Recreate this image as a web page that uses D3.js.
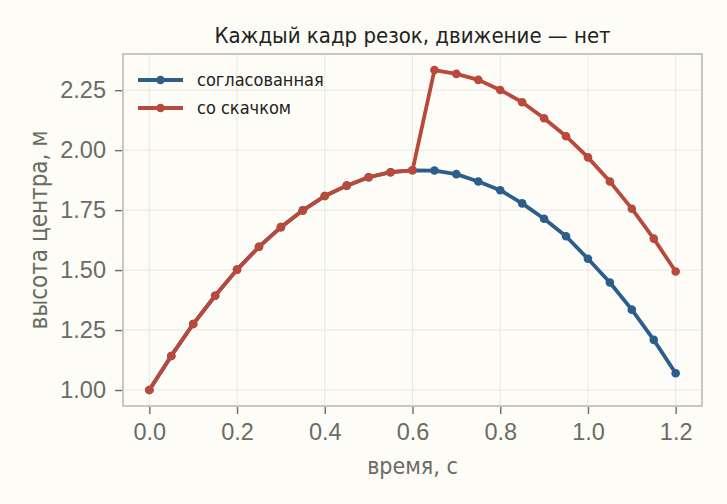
<!DOCTYPE html>
<html>
<head>
<meta charset="utf-8">
<script src="https://cdn.jsdelivr.net/npm/d3@7"></script>
<style>
  body { margin: 0; background: #fdfcf7; }
  svg { font-family: "DejaVu Sans Condensed", "DejaVu Sans", sans-serif; font-stretch: condensed; }
</style>
</head>
<body>
<svg id="chart" width="727" height="504"></svg>
<script>
// time samples, s
const times = [0.0, 0.05, 0.1, 0.15, 0.2, 0.25, 0.3, 0.35, 0.4, 0.45, 0.5, 0.55, 0.6,
  0.65, 0.7, 0.75, 0.8, 0.85, 0.9, 0.95, 1.0, 1.05, 1.1, 1.15, 1.2];
// consistent motion
const smoothH = [1.000, 1.142, 1.275, 1.393, 1.502, 1.597, 1.679, 1.749, 1.809, 1.852, 1.887, 1.908, 1.916,
  1.915, 1.900, 1.869, 1.833, 1.778, 1.714, 1.641, 1.547, 1.448, 1.335, 1.209, 1.070];
// with a jump after 0.6 s
const jumpH = [1.000, 1.142, 1.275, 1.393, 1.502, 1.597, 1.679, 1.749, 1.809, 1.852, 1.887, 1.908, 1.916,
  2.334, 2.318, 2.293, 2.251, 2.200, 2.133, 2.058, 1.970, 1.869, 1.756, 1.631, 1.494];
const xTicks = [0.0, 0.2, 0.4, 0.6, 0.8, 1.0, 1.2];
const yTicks = [1.00, 1.25, 1.50, 1.75, 2.00, 2.25];
const seriesNames = ["согласованная", "со скачком"];
const seriesColors = ["#2c5d8b", "#b8493b"];

const margin = { top: 54, right: 25, bottom: 98, left: 123 };
const W = 727, H = 504;
const w = W - margin.left - margin.right;
const h = H - margin.top - margin.bottom;

const svg = d3.select("#chart");
const g = svg.append("g").attr("transform", `translate(${margin.left},${margin.top})`);

const x = d3.scaleLinear().domain([-0.06, 1.26]).range([0, w]);
const y = d3.scaleLinear().domain([0.9333, 2.4009]).range([h, 0]);

// grid
g.append("g").selectAll("line").data(xTicks).join("line")
  .attr("x1", d => x(d)).attr("x2", d => x(d)).attr("y1", 0).attr("y2", h)
  .attr("stroke", "#e9e8e2").attr("stroke-width", 1);
g.append("g").selectAll("line").data(yTicks).join("line")
  .attr("y1", d => y(d)).attr("y2", d => y(d)).attr("x1", 0).attr("x2", w)
  .attr("stroke", "#e9e8e2").attr("stroke-width", 1);

// axes
const xAxis = g.append("g").attr("transform", `translate(0,${h})`)
  .call(d3.axisBottom(x).tickValues(xTicks).tickFormat(d3.format(".1f")).tickSize(7).tickPadding(10));
const yAxis = g.append("g")
  .call(d3.axisLeft(y).tickValues(yTicks).tickFormat(d3.format(".2f")).tickSize(7).tickPadding(10));
[xAxis, yAxis].forEach(a => {
  a.select(".domain").remove();
  a.selectAll(".tick line").attr("stroke", "#6b6b66").attr("stroke-width", 1.4)
    .attr("transform", a === xAxis ? "translate(0,1)" : "translate(-1,0)");
  a.selectAll(".tick text").attr("fill", "#6b6b66").style("font-size", "23.5px");
});

// frame
g.append("rect").attr("width", w).attr("height", h)
  .attr("fill", "none").attr("stroke", "#c9c8bf").attr("stroke-width", 2);

// lines: consistent first, jump on top
const line = d3.line().x(d => x(d[0])).y(d => y(d[1]));
[smoothH, jumpH].forEach((vals, k) => {
  const pts = times.map((t, i) => [t, vals[i]]);
  const s = g.append("g");
  s.append("path").datum(pts).attr("d", line)
    .attr("fill", "none").attr("stroke", seriesColors[k]).attr("stroke-width", 3.8)
    .attr("stroke-linejoin", "round");
  s.selectAll("circle").data(pts).join("circle")
    .attr("cx", d => x(d[0])).attr("cy", d => y(d[1])).attr("r", 4.3)
    .attr("fill", seriesColors[k]);
});

// legend
const leg = g.append("g").attr("transform", "translate(15,26)");
seriesNames.forEach((name, i) => {
  const row = leg.append("g").attr("transform", `translate(0,${i * 28})`);
  row.append("line").attr("x1", 0).attr("x2", 45).attr("stroke", seriesColors[i]).attr("stroke-width", 3.8);
  row.append("circle").attr("cx", 22.5).attr("r", 4.3).attr("fill", seriesColors[i]);
  row.append("text").attr("x", 59).attr("dy", "0.35em").text(name)
    .attr("fill", "#222").style("font-size", "18px");
});

// title & labels
svg.append("text").attr("x", margin.left + w / 2).attr("y", 43).attr("text-anchor", "middle")
  .attr("fill", "#222").style("font-size", "22px").text("Каждый кадр резок, движение — нет");
svg.append("text").attr("x", margin.left + w / 2).attr("y", 474).attr("text-anchor", "middle")
  .attr("fill", "#6b6b66").style("font-size", "23px").text("время, с");
svg.append("text").attr("transform", `translate(47,${margin.top + h / 2}) rotate(-90)`)
  .attr("text-anchor", "middle").attr("fill", "#6b6b66").style("font-size", "24px")
  .text("высота центра, м");
</script>
</body>
</html>
